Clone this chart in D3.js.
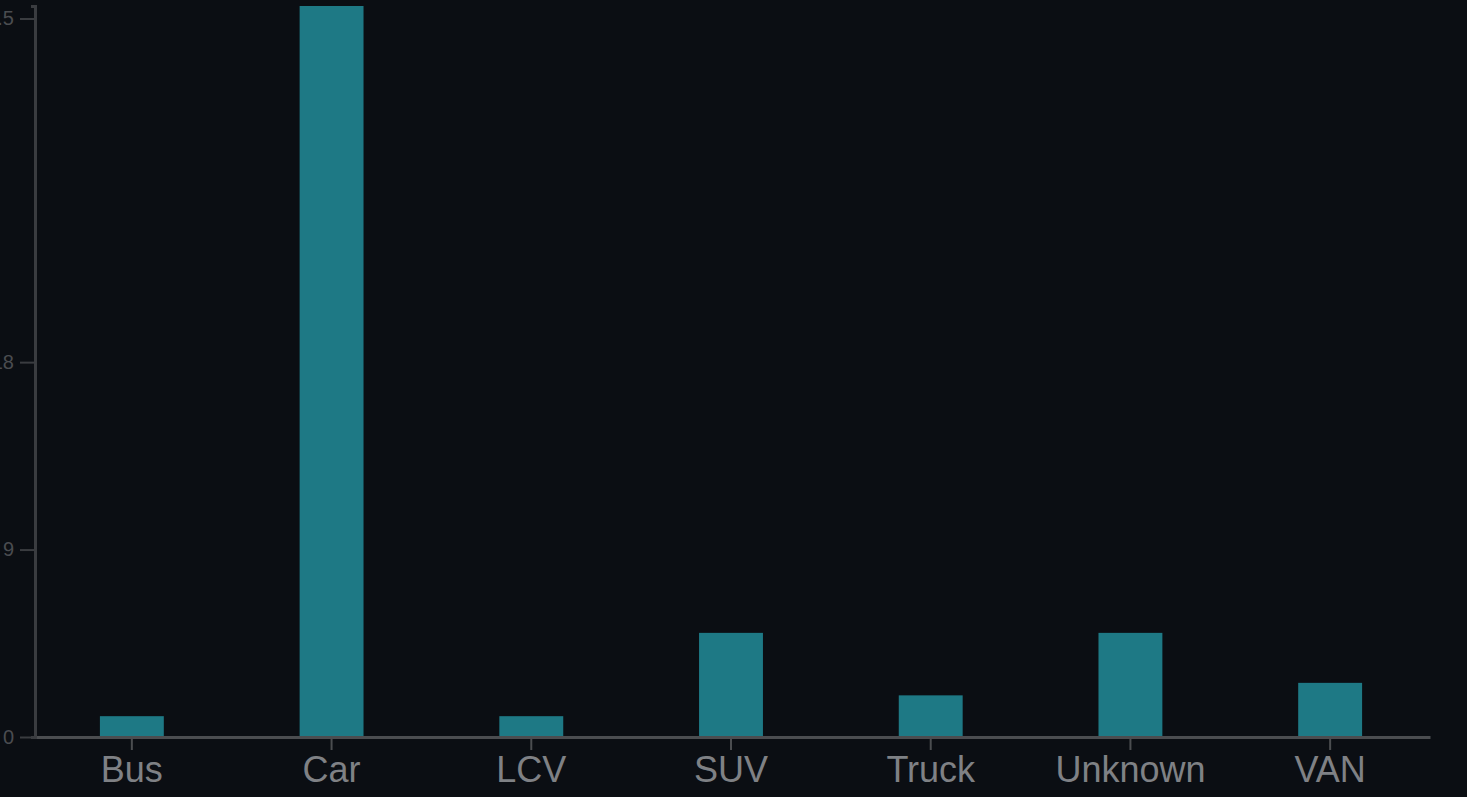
<!DOCTYPE html>
<html>
<head>
<meta charset="utf-8">
<script src="https://cdn.jsdelivr.net/npm/d3@7"></script>
<style>
  html, body { margin: 0; padding: 0; background: #0b0e13; overflow: hidden; }
  svg { display: block; }
</style>
</head>
<body>
<div id="chart"></div>
<script>
// vehicle type counts
const categories = ['Bus', 'Car', 'LCV', 'SUV', 'Truck', 'Unknown', 'VAN'];
const counts = [1, 35.1, 1, 5, 2, 5, 2.6];
const yTicks = [0, 9, 18, 34.5];

const width = 1467;
const height = 797;
const margin = { left: 35, right: 35, top: 6, bottom: 60 };

const svg = d3.select('#chart')
    .append('svg')
    .attr('width', width)
    .attr('height', height);

svg.append('rect')
    .attr('width', width)
    .attr('height', height)
    .attr('fill', '#0b0e13');

// band range starts a bit left of the y axis so the bars sit where they do in the picture
const x = d3.scaleBand()
    .domain(categories)
    .range([margin.left - 3, width - margin.right - 2])
    .paddingInner(0.68)
    .paddingOuter(0.34);

const y = d3.scaleLinear()
    .domain([0, d3.max(counts)])
    .range([height - margin.bottom, margin.top]);

const rows = categories.map((c, i) => ({ cat: c, val: counts[i] }));

// bars
svg.append('g')
    .selectAll('rect')
    .data(rows)
    .enter()
    .append('rect')
    .attr('x', d => x(d.cat))
    .attr('y', d => y(d.val))
    .attr('width', x.bandwidth())
    .attr('height', d => y(0) - y(d.val))
    .attr('fill', '#1e7985');

// x axis
const xAxis = svg.append('g')
    .attr('transform', 'translate(0,' + y(0) + ')')
    .call(d3.axisBottom(x).tickSize(13).tickSizeOuter(0).tickPadding(6));

xAxis.select('.domain').attr('stroke', '#4b4d50').attr('stroke-width', 3);
xAxis.selectAll('.tick line').attr('stroke', '#4b4d50').attr('stroke-width', 2);
xAxis.selectAll('.tick text')
    .attr('fill', '#7f8185')
    .attr('font-family', '"Liberation Sans", Arial, sans-serif')
    .attr('font-size', 36);

// y axis (labels partly cut by the left edge, as in the picture)
const yAxis = svg.append('g')
    .attr('transform', 'translate(' + margin.left + ',0)')
    .call(d3.axisLeft(y).tickValues(yTicks).tickSize(15).tickSizeOuter(4).tickPadding(6)
        .tickFormat(d3.format('')));

yAxis.select('.domain').attr('stroke', '#3a3c40').attr('stroke-width', 3);
yAxis.selectAll('.tick line').attr('stroke', '#3a3c40').attr('stroke-width', 2);
yAxis.selectAll('.tick text')
    .attr('fill', '#4a4c50')
    .attr('font-family', '"Liberation Sans", Arial, sans-serif')
    .attr('font-size', 20);
</script>
</body>
</html>
